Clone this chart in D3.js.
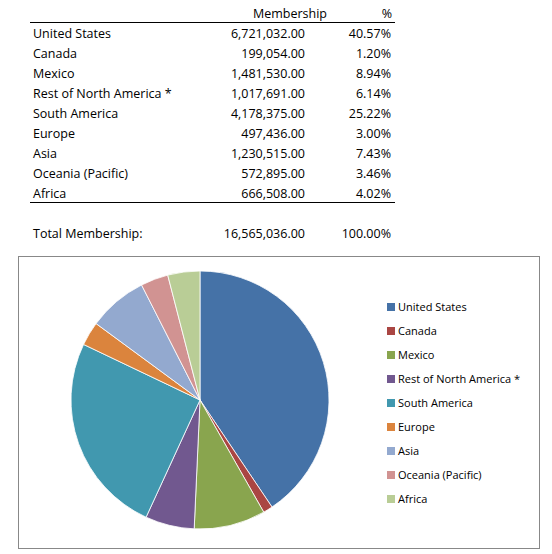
<!DOCTYPE html>
<html><head><meta charset="utf-8">
<script src="https://cdn.jsdelivr.net/npm/d3@7"></script>
<style>body{margin:0;background:#fff}text{font-family:"Open Sans",sans-serif}</style>
</head><body><svg id="c" width="552" height="554"></svg>
<script>
const regions=["United States","Canada","Mexico","Rest of North America *","South America","Europe","Asia","Oceania (Pacific)","Africa"];
const membership=[6721032,199054,1481530,1017691,4178375,497436,1230515,572895,666508];
const percents=["40.57%","1.20%","8.94%","6.14%","25.22%","3.00%","7.43%","3.46%","4.02%"];
const colors=["#4572A7","#AA4643","#89A54E","#71588F","#4198AF","#DB843D","#93A9CF","#D19392","#B9CD96"];
const totalLabel="Total Membership:", totalValue="16,565,036.00", totalPct="100.00%";

const svg=d3.select("#c");
const fmt=d3.format(",.2f");
const fs=12.5;
// table
svg.append("text").attr("x",327).attr("y",18).attr("text-anchor","end").attr("font-size",fs).text("Membership");
svg.append("text").attr("x",392).attr("y",18).attr("text-anchor","end").attr("font-size",fs).text("%");
svg.append("line").attr("x1",30).attr("x2",395).attr("y1",22.5).attr("y2",22.5).attr("stroke","#000");
const row=d3.scaleLinear().domain([0,1]).range([38,58]);
regions.forEach((r,i)=>{
  const y=row(i);
  svg.append("text").attr("x",33).attr("y",y).attr("font-size",fs).text(r);
  svg.append("text").attr("x",305).attr("y",y).attr("text-anchor","end").attr("font-size",fs).text(fmt(membership[i]));
  svg.append("text").attr("x",391).attr("y",y).attr("text-anchor","end").attr("font-size",fs).text(percents[i]);
});
svg.append("line").attr("x1",30).attr("x2",395).attr("y1",202.5).attr("y2",202.5).attr("stroke","#000");
svg.append("text").attr("x",33).attr("y",238).attr("font-size",fs).text(totalLabel);
svg.append("text").attr("x",305).attr("y",238).attr("text-anchor","end").attr("font-size",fs).text(totalValue);
svg.append("text").attr("x",391).attr("y",238).attr("text-anchor","end").attr("font-size",fs).text(totalPct);

// chart box
svg.append("rect").attr("x",18.5).attr("y",256.5).attr("width",521).attr("height",292).attr("fill","#fff").attr("stroke","#888");
const pie=d3.pie().sort(null)(membership);
const arc=d3.arc().innerRadius(0).outerRadius(129);
svg.append("g").attr("transform","translate(200,400)").selectAll("path").data(pie).join("path")
  .attr("d",arc).attr("fill",(d,i)=>colors[i]).attr("stroke","#fff").attr("stroke-width",0.8);
const ly=d3.scaleLinear().domain([0,1]).range([307,331]);
regions.forEach((r,i)=>{
  svg.append("rect").attr("x",387).attr("y",ly(i)-4).attr("width",8).attr("height",8).attr("fill",colors[i]);
  svg.append("text").attr("x",398).attr("y",ly(i)+4).attr("font-size",11).text(r);
});
</script></body></html>
